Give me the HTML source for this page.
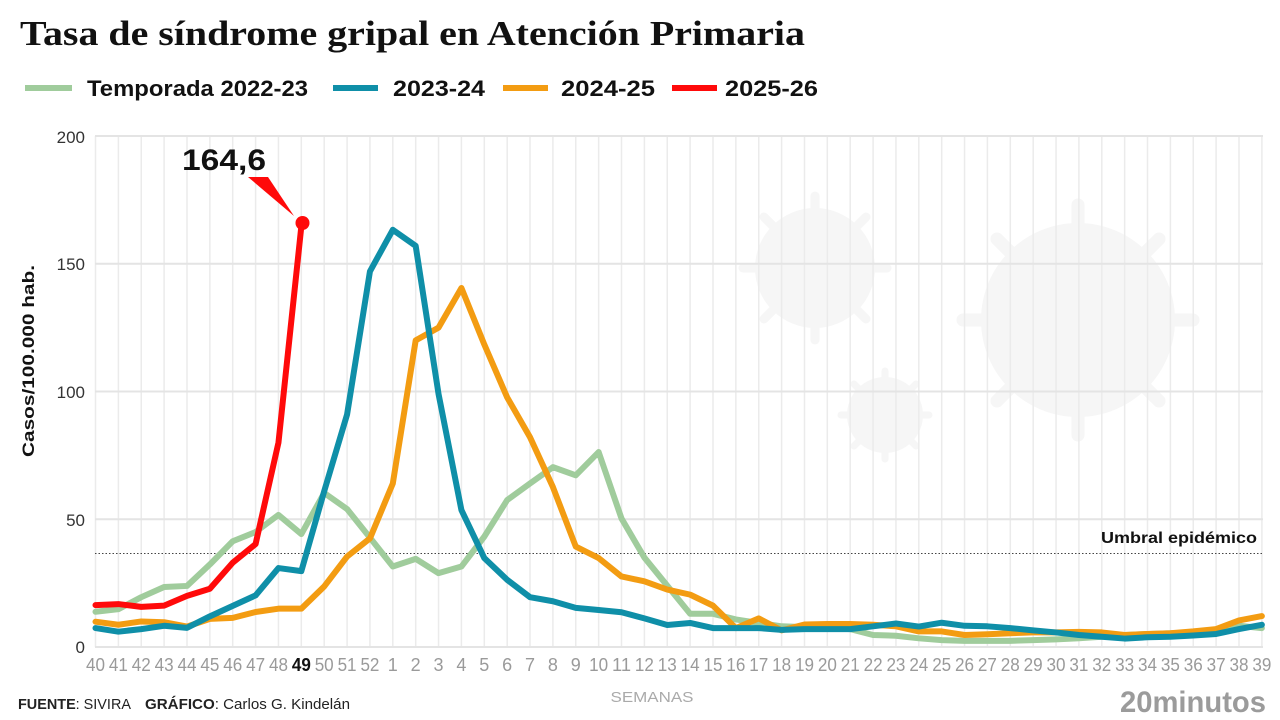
<!DOCTYPE html>
<html><head><meta charset="utf-8"><style>
html,body{margin:0;padding:0;background:#fff;}
svg{display:block;}
text{font-family:"Liberation Sans",sans-serif;}
</style></head><body>
<svg width="1280" height="720" viewBox="0 0 1280 720" xmlns="http://www.w3.org/2000/svg">
<rect width="1280" height="720" fill="#fff"/>
<!-- title -->
<text x="20" y="45" font-weight="bold" font-size="35" fill="#111" textLength="785" lengthAdjust="spacingAndGlyphs" style="font-family:'Liberation Serif',serif">Tasa de síndrome gripal en Atención Primaria</text>
<!-- legend -->
<g stroke-width="6" stroke-linecap="butt">
<line x1="25" y1="88" x2="72" y2="88" stroke="#a0cc9c"/>
<line x1="333" y1="88" x2="378" y2="88" stroke="#0f8fa8"/>
<line x1="503" y1="88" x2="548" y2="88" stroke="#f39c12"/>
<line x1="672" y1="88" x2="717" y2="88" stroke="#ff0a0a"/>
</g>
<g font-weight="bold" font-size="22" fill="#111">
<text x="87" y="96" textLength="221" lengthAdjust="spacingAndGlyphs">Temporada 2022-23</text>
<text x="393" y="96" textLength="92" lengthAdjust="spacingAndGlyphs">2023-24</text>
<text x="561" y="96" textLength="94" lengthAdjust="spacingAndGlyphs">2024-25</text>
<text x="725" y="96" textLength="93" lengthAdjust="spacingAndGlyphs">2025-26</text>
</g>
<!-- virus watermarks -->
<g fill="#f6f6f6">
<circle cx="1078" cy="320" r="97"/>
<g stroke="#f6f6f6" stroke-width="13" stroke-linecap="round">
<line x1="1078" y1="320" x2="1078" y2="205"/><line x1="1078" y1="320" x2="1078" y2="435"/>
<line x1="1078" y1="320" x2="963" y2="320"/><line x1="1078" y1="320" x2="1193" y2="320"/>
<line x1="1078" y1="320" x2="997" y2="239"/><line x1="1078" y1="320" x2="1159" y2="239"/>
<line x1="1078" y1="320" x2="997" y2="401"/><line x1="1078" y1="320" x2="1159" y2="401"/>
</g>
<circle cx="815" cy="268" r="60"/>
<g stroke="#f6f6f6" stroke-width="9" stroke-linecap="round">
<line x1="815" y1="268" x2="815" y2="196"/><line x1="815" y1="268" x2="815" y2="340"/>
<line x1="815" y1="268" x2="743" y2="268"/><line x1="815" y1="268" x2="887" y2="268"/>
<line x1="815" y1="268" x2="764" y2="217"/><line x1="815" y1="268" x2="866" y2="217"/>
<line x1="815" y1="268" x2="764" y2="319"/><line x1="815" y1="268" x2="866" y2="319"/>
</g>
<circle cx="885" cy="415" r="38"/>
<g stroke="#f6f6f6" stroke-width="7" stroke-linecap="round">
<line x1="885" y1="415" x2="885" y2="371"/><line x1="885" y1="415" x2="885" y2="459"/>
<line x1="885" y1="415" x2="841" y2="415"/><line x1="885" y1="415" x2="929" y2="415"/>
<line x1="885" y1="415" x2="854" y2="384"/><line x1="885" y1="415" x2="916" y2="384"/>
<line x1="885" y1="415" x2="854" y2="446"/><line x1="885" y1="415" x2="916" y2="446"/>
</g>
</g>
<!-- vertical gridlines -->
<g stroke="#ebebeb" stroke-width="1.5">
<line x1="95.5" y1="136" x2="95.5" y2="647"/><line x1="118.37" y1="136" x2="118.37" y2="647"/><line x1="141.24" y1="136" x2="141.24" y2="647"/><line x1="164.11" y1="136" x2="164.11" y2="647"/><line x1="186.98" y1="136" x2="186.98" y2="647"/><line x1="209.85" y1="136" x2="209.85" y2="647"/><line x1="232.72" y1="136" x2="232.72" y2="647"/><line x1="255.59" y1="136" x2="255.59" y2="647"/><line x1="278.46" y1="136" x2="278.46" y2="647"/><line x1="301.33" y1="136" x2="301.33" y2="647"/><line x1="324.2" y1="136" x2="324.2" y2="647"/><line x1="347.07" y1="136" x2="347.07" y2="647"/><line x1="369.94" y1="136" x2="369.94" y2="647"/><line x1="392.81" y1="136" x2="392.81" y2="647"/><line x1="415.68" y1="136" x2="415.68" y2="647"/><line x1="438.55" y1="136" x2="438.55" y2="647"/><line x1="461.42" y1="136" x2="461.42" y2="647"/><line x1="484.29" y1="136" x2="484.29" y2="647"/><line x1="507.16" y1="136" x2="507.16" y2="647"/><line x1="530.03" y1="136" x2="530.03" y2="647"/><line x1="552.9" y1="136" x2="552.9" y2="647"/><line x1="575.77" y1="136" x2="575.77" y2="647"/><line x1="598.64" y1="136" x2="598.64" y2="647"/><line x1="621.51" y1="136" x2="621.51" y2="647"/><line x1="644.38" y1="136" x2="644.38" y2="647"/><line x1="667.25" y1="136" x2="667.25" y2="647"/><line x1="690.12" y1="136" x2="690.12" y2="647"/><line x1="712.99" y1="136" x2="712.99" y2="647"/><line x1="735.86" y1="136" x2="735.86" y2="647"/><line x1="758.73" y1="136" x2="758.73" y2="647"/><line x1="781.6" y1="136" x2="781.6" y2="647"/><line x1="804.47" y1="136" x2="804.47" y2="647"/><line x1="827.34" y1="136" x2="827.34" y2="647"/><line x1="850.21" y1="136" x2="850.21" y2="647"/><line x1="873.08" y1="136" x2="873.08" y2="647"/><line x1="895.95" y1="136" x2="895.95" y2="647"/><line x1="918.82" y1="136" x2="918.82" y2="647"/><line x1="941.69" y1="136" x2="941.69" y2="647"/><line x1="964.56" y1="136" x2="964.56" y2="647"/><line x1="987.43" y1="136" x2="987.43" y2="647"/><line x1="1010.3" y1="136" x2="1010.3" y2="647"/><line x1="1033.17" y1="136" x2="1033.17" y2="647"/><line x1="1056.04" y1="136" x2="1056.04" y2="647"/><line x1="1078.91" y1="136" x2="1078.91" y2="647"/><line x1="1101.78" y1="136" x2="1101.78" y2="647"/><line x1="1124.65" y1="136" x2="1124.65" y2="647"/><line x1="1147.52" y1="136" x2="1147.52" y2="647"/><line x1="1170.39" y1="136" x2="1170.39" y2="647"/><line x1="1193.26" y1="136" x2="1193.26" y2="647"/><line x1="1216.13" y1="136" x2="1216.13" y2="647"/><line x1="1239" y1="136" x2="1239" y2="647"/><line x1="1261.87" y1="136" x2="1261.87" y2="647"/>
</g>
<!-- horizontal gridlines -->
<g stroke="#e4e4e4" stroke-width="2">
<line x1="95" y1="136" x2="1263" y2="136"/>
<line x1="95" y1="263.75" x2="1263" y2="263.75"/>
<line x1="95" y1="391.5" x2="1263" y2="391.5"/>
<line x1="95" y1="519.25" x2="1263" y2="519.25"/>
<line x1="95" y1="647" x2="1263" y2="647"/>
</g>
<!-- threshold -->
<line x1="95" y1="553.5" x2="1262" y2="553.5" stroke="#444" stroke-width="1" stroke-dasharray="1.5,2"/>
<text x="1257" y="543" text-anchor="end" font-weight="bold" font-size="16" fill="#111" textLength="156" lengthAdjust="spacingAndGlyphs">Umbral epidémico</text>
<!-- y tick labels -->
<g font-size="17" fill="#333" text-anchor="end">
<text x="85" y="143">200</text>
<text x="85" y="270">150</text>
<text x="85" y="398">100</text>
<text x="85" y="526">50</text>
<text x="85" y="653">0</text>
</g>
<text transform="translate(34 361) rotate(-90)" text-anchor="middle" font-weight="bold" font-size="17" fill="#111" textLength="192" lengthAdjust="spacingAndGlyphs">Casos/100.000 hab.</text>
<!-- x tick labels -->
<g font-size="18" fill="#9a9a9a" text-anchor="middle">
<text x="95.5" y="671" textLength="19" lengthAdjust="spacingAndGlyphs">40</text>
<text x="118.37" y="671" textLength="19" lengthAdjust="spacingAndGlyphs">41</text>
<text x="141.24" y="671" textLength="19" lengthAdjust="spacingAndGlyphs">42</text>
<text x="164.11" y="671" textLength="19" lengthAdjust="spacingAndGlyphs">43</text>
<text x="186.98" y="671" textLength="19" lengthAdjust="spacingAndGlyphs">44</text>
<text x="209.85" y="671" textLength="19" lengthAdjust="spacingAndGlyphs">45</text>
<text x="232.72" y="671" textLength="19" lengthAdjust="spacingAndGlyphs">46</text>
<text x="255.59" y="671" textLength="19" lengthAdjust="spacingAndGlyphs">47</text>
<text x="278.46" y="671" textLength="19" lengthAdjust="spacingAndGlyphs">48</text>
<text x="301.33" y="671" textLength="19" lengthAdjust="spacingAndGlyphs" fill="#111" font-weight="bold">49</text>
<text x="324.2" y="671" textLength="19" lengthAdjust="spacingAndGlyphs">50</text>
<text x="347.07" y="671" textLength="19" lengthAdjust="spacingAndGlyphs">51</text>
<text x="369.94" y="671" textLength="19" lengthAdjust="spacingAndGlyphs">52</text>
<text x="392.81" y="671">1</text>
<text x="415.68" y="671">2</text>
<text x="438.55" y="671">3</text>
<text x="461.42" y="671">4</text>
<text x="484.29" y="671">5</text>
<text x="507.16" y="671">6</text>
<text x="530.03" y="671">7</text>
<text x="552.9" y="671">8</text>
<text x="575.77" y="671">9</text>
<text x="598.64" y="671" textLength="19" lengthAdjust="spacingAndGlyphs">10</text>
<text x="621.51" y="671" textLength="19" lengthAdjust="spacingAndGlyphs">11</text>
<text x="644.38" y="671" textLength="19" lengthAdjust="spacingAndGlyphs">12</text>
<text x="667.25" y="671" textLength="19" lengthAdjust="spacingAndGlyphs">13</text>
<text x="690.12" y="671" textLength="19" lengthAdjust="spacingAndGlyphs">14</text>
<text x="712.99" y="671" textLength="19" lengthAdjust="spacingAndGlyphs">15</text>
<text x="735.86" y="671" textLength="19" lengthAdjust="spacingAndGlyphs">16</text>
<text x="758.73" y="671" textLength="19" lengthAdjust="spacingAndGlyphs">17</text>
<text x="781.6" y="671" textLength="19" lengthAdjust="spacingAndGlyphs">18</text>
<text x="804.47" y="671" textLength="19" lengthAdjust="spacingAndGlyphs">19</text>
<text x="827.34" y="671" textLength="19" lengthAdjust="spacingAndGlyphs">20</text>
<text x="850.21" y="671" textLength="19" lengthAdjust="spacingAndGlyphs">21</text>
<text x="873.08" y="671" textLength="19" lengthAdjust="spacingAndGlyphs">22</text>
<text x="895.95" y="671" textLength="19" lengthAdjust="spacingAndGlyphs">23</text>
<text x="918.82" y="671" textLength="19" lengthAdjust="spacingAndGlyphs">24</text>
<text x="941.69" y="671" textLength="19" lengthAdjust="spacingAndGlyphs">25</text>
<text x="964.56" y="671" textLength="19" lengthAdjust="spacingAndGlyphs">26</text>
<text x="987.43" y="671" textLength="19" lengthAdjust="spacingAndGlyphs">27</text>
<text x="1010.3" y="671" textLength="19" lengthAdjust="spacingAndGlyphs">28</text>
<text x="1033.17" y="671" textLength="19" lengthAdjust="spacingAndGlyphs">29</text>
<text x="1056.04" y="671" textLength="19" lengthAdjust="spacingAndGlyphs">30</text>
<text x="1078.91" y="671" textLength="19" lengthAdjust="spacingAndGlyphs">31</text>
<text x="1101.78" y="671" textLength="19" lengthAdjust="spacingAndGlyphs">32</text>
<text x="1124.65" y="671" textLength="19" lengthAdjust="spacingAndGlyphs">33</text>
<text x="1147.52" y="671" textLength="19" lengthAdjust="spacingAndGlyphs">34</text>
<text x="1170.39" y="671" textLength="19" lengthAdjust="spacingAndGlyphs">35</text>
<text x="1193.26" y="671" textLength="19" lengthAdjust="spacingAndGlyphs">36</text>
<text x="1216.13" y="671" textLength="19" lengthAdjust="spacingAndGlyphs">37</text>
<text x="1239" y="671" textLength="19" lengthAdjust="spacingAndGlyphs">38</text>
<text x="1261.87" y="671" textLength="19" lengthAdjust="spacingAndGlyphs">39</text>
</g>
<text x="652" y="702" text-anchor="middle" font-size="15" fill="#aaa" textLength="83" lengthAdjust="spacingAndGlyphs">SEMANAS</text>
<!-- series -->
<g transform="translate(95.5 647) scale(22.87 -2.555)" fill="none" stroke-linejoin="round" stroke-linecap="round">
<polyline vector-effect="non-scaling-stroke" stroke="#a0cc9c" stroke-width="6" points="0,13.8 1,14.8 2,19.5 3,23.5 4,23.9 5,32.3 6,41.4 7,45 8,51.7 9,44.2 10,60.3 11,54 12,42.8 13,31.5 14,34.5 15,28.9 16,31.5 17,43.2 18,57.5 19,64 20,70.4 21,67.2 22,76.3 23,50.3 24,35 25,24 26,13 27,13 28,10.8 29,9.4 30,8.1 31,7.8 32,7.4 33,7 34,4.7 35,4.4 36,3.4 37,2.7 38,2.4 39,2.4 40,2.4 41,2.7 42,3 43,3.4 44,4 45,4.7 46,5.1 47,5.4 48,5.7 49,6.1 50,8.3 51,7.4"/>
<polyline vector-effect="non-scaling-stroke" stroke="#f39c12" stroke-width="6" points="0,9.9 1,8.7 2,10 3,9.7 4,8 5,11 6,11.4 7,13.7 8,15 9,15 10,23.7 11,35.4 12,42.5 13,64 14,120 15,125 16,140.5 17,118.4 18,97.7 19,82.1 20,62.6 21,39.3 22,34.8 23,27.6 24,25.7 25,22.5 26,20.5 27,16.2 28,7.4 29,11.2 30,6.5 31,8.8 32,9 33,9 34,8.7 35,8.1 36,6.1 37,6.1 38,4.7 39,5 40,5.4 41,5.7 42,5.7 43,5.9 44,5.7 45,4.7 46,5.1 47,5.4 48,6.1 49,7 50,10.4 51,12.1"/>
<polyline vector-effect="non-scaling-stroke" stroke="#0f8fa8" stroke-width="6" points="0,7.4 1,6 2,7 3,8.3 4,7.5 5,12 6,16.1 7,20.2 8,30.9 9,29.7 10,61 11,91 12,147 13,163.3 14,157 15,99 16,53.6 17,34.8 18,26.3 19,19.5 20,17.9 21,15.3 22,14.5 23,13.6 24,11.2 25,8.6 26,9.4 27,7.4 28,7.4 29,7.4 30,6.7 31,7 32,7 33,7 34,8.1 35,9.2 36,8 37,9.5 38,8.3 39,8.1 40,7.4 41,6.5 42,5.7 43,4.7 44,4 45,3.3 46,3.8 47,4 48,4.5 49,5.1 50,7 51,8.7"/>
<polyline vector-effect="non-scaling-stroke" stroke="#ff0a0a" stroke-width="6" points="0,16.4 1,16.8 2,15.7 3,16.2 4,20 5,22.8 6,33 7,40.3 8,80 9,164.6"/>
</g>
<!-- annotation -->
<circle cx="302.5" cy="223" r="7" fill="#ff0a0a"/>
<polygon points="248,177 268,177 294,216" fill="#ff0a0a"/>
<text x="182" y="170" font-weight="bold" font-size="30" fill="#111" textLength="84" lengthAdjust="spacingAndGlyphs">164,6</text>
<!-- footer -->
<text x="18" y="709" font-size="15" fill="#222" textLength="113" lengthAdjust="spacingAndGlyphs"><tspan font-weight="bold">FUENTE</tspan>: SIVIRA</text>
<text x="145" y="709" font-size="15" fill="#222" textLength="205" lengthAdjust="spacingAndGlyphs"><tspan font-weight="bold">GRÁFICO</tspan>: Carlos G. Kindelán</text>
<text x="1120" y="712" font-weight="bold" font-size="30" fill="#9b9b9b" textLength="146" lengthAdjust="spacingAndGlyphs">20minutos</text>
</svg>
</body></html>
